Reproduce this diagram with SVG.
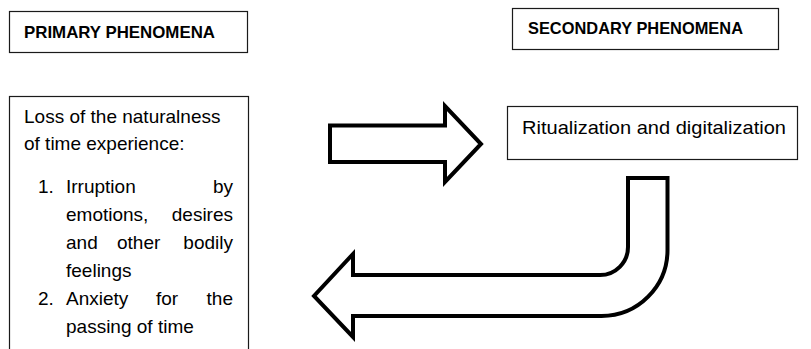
<svg xmlns="http://www.w3.org/2000/svg" width="811" height="349" viewBox="0 0 811 349">
<style>
.box{fill:#fff;stroke:#1a1a1a;stroke-width:1.2}
.hdr{font-family:"Liberation Sans",Arial,sans-serif;font-weight:bold;font-size:16.5px;fill:#000}
.txt{font-family:"Liberation Sans",Arial,sans-serif;font-size:19px;fill:#000}
.end{text-anchor:end}
.arrow{fill:#fff;stroke:#000;stroke-width:4;stroke-linejoin:miter}
</style>
<rect width="811" height="349" fill="#fff"/>
<g id="primary-header">
<rect class="box" x="9.5" y="11.5" width="238" height="41"/>
<text class="hdr" x="24" y="38" textLength="191" lengthAdjust="spacingAndGlyphs">PRIMARY PHENOMENA</text>
</g>
<g id="secondary-header">
<rect class="box" x="512.5" y="8.5" width="266" height="41"/>
<text class="hdr" x="528" y="34" textLength="215" lengthAdjust="spacingAndGlyphs">SECONDARY PHENOMENA</text>
</g>
<g id="primary-box">
<rect class="box" x="9.5" y="96.5" width="239" height="270"/>
<text class="txt" x="24" y="123">Loss of the naturalness</text>
<text class="txt" x="24" y="150">of time experience:</text>
<text class="txt" x="38" y="193">1.</text>
<text class="txt" x="66" y="193">Irruption</text>
<text class="txt end" x="233" y="193">by</text>
<text class="txt" x="66" y="221">emotions,</text>
<text class="txt end" x="233" y="221">desires</text>
<text class="txt" x="66" y="249">and</text>
<text class="txt" x="117" y="249">other</text>
<text class="txt end" x="233" y="249">bodily</text>
<text class="txt" x="66" y="277">feelings</text>
<text class="txt" x="38" y="305">2.</text>
<text class="txt" x="66" y="305">Anxiety</text>
<text class="txt" x="156" y="305">for</text>
<text class="txt end" x="233" y="305">the</text>
<text class="txt" x="66" y="333">passing of time</text>
</g>
<g id="secondary-box">
<rect class="box" x="507.5" y="106.5" width="290" height="53"/>
<text class="txt" x="522" y="134" textLength="264" lengthAdjust="spacingAndGlyphs">Ritualization and digitalization</text>
</g>
<g id="connectors">
<polygon class="arrow" points="330,125.5 445,125.5 445,106 481,144 445,182 445,162 330,162"/>
<path class="arrow" d="M628,178 L667.5,178 L667.5,250 A66 66 0 0 1 601.5,316 L353,316 L353,337 L314,296 L353,254 L353,275 L600,275 A28 28 0 0 0 628,247 Z"/>
</g>
</svg>
